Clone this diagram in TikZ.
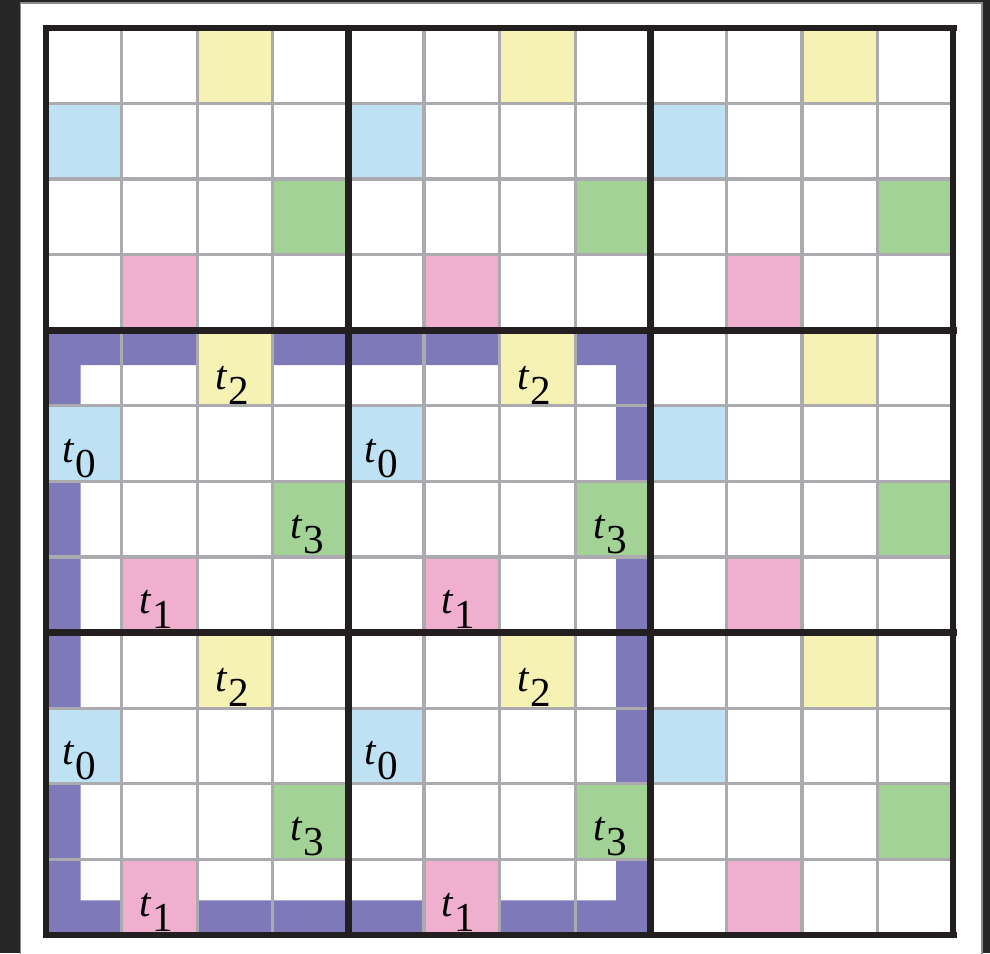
\documentclass[tikz,border=0pt]{standalone}
\usepackage{fontspec}
\setmainfont{Liberation Serif}
\definecolor{suBack}{HTML}{262626}
\definecolor{suYellow}{HTML}{F5F2B4}
\definecolor{suBlue}{HTML}{BEE1F3}
\definecolor{suGreen}{HTML}{A2D295}
\definecolor{suPink}{HTML}{F0AFCF}
\definecolor{suPurple}{HTML}{7E79B9}
\definecolor{suGrid}{HTML}{ABABAF}
\definecolor{suFrame}{HTML}{231F20}
\newcommand{\tlab}[1]{\textit{t}\kern0.3pt\raisebox{-5.6pt}{#1}}

\begin{document}
\begin{tikzpicture}[
  every node/.style={font=\fontsize{15.5}{15.5}\selectfont, inner sep=0pt},
  thin grid/.style={draw=suGrid, line width=1.2pt},
  block grid/.style={draw=suFrame, line width=2.5pt, line cap=rect},
  tlabel/.style={anchor=base}
]
  \useasboundingbox[fill=suBack] (-0.608,-0.238) rectangle (12.487,12.368);
  \fill[white, draw=black!45, line width=0.4pt] (-0.331,-0.6) rectangle (12.381,12.328);

  % band round the four lower-left blocks
  \fill[suPurple, even odd rule] (0,0) rectangle (8,8) (0.46,0.46) rectangle (7.54,7.54);

  \foreach \bx in {0,1,2} {
    \foreach \by in {0,1,2} {
      \fill[suYellow] ({4*\bx+2},{4*\by+3}) rectangle +(1,1);
      \fill[suBlue]   ({4*\bx},{4*\by+2}) rectangle +(1,1);
      \fill[suGreen]  ({4*\bx+3},{4*\by+1}) rectangle +(1,1);
      \fill[suPink]   ({4*\bx+1},{4*\by}) rectangle +(1,1);
    }
  }

  \draw[thin grid] (0,0) grid (12,12);
  \draw[block grid, step=4] (0,0) grid (12,12);

  \foreach \bx in {0,1} {
    \foreach \by in {0,1} {
      \node[tlabel] (tw-\bx-\by) at ({4*\bx+2.46},{4*\by+3.22}) {\tlab{2}};
      \node[tlabel] (tz-\bx-\by) at ({4*\bx+0.44},{4*\by+2.25}) {\tlab{0}};
      \node[tlabel] (th-\bx-\by) at ({4*\bx+3.46},{4*\by+1.25}) {\tlab{3}};
      \node[tlabel] (to-\bx-\by) at ({4*\bx+1.46},{4*\by+0.25}) {\tlab{1}};
    }
  }
\end{tikzpicture}
\end{document}
